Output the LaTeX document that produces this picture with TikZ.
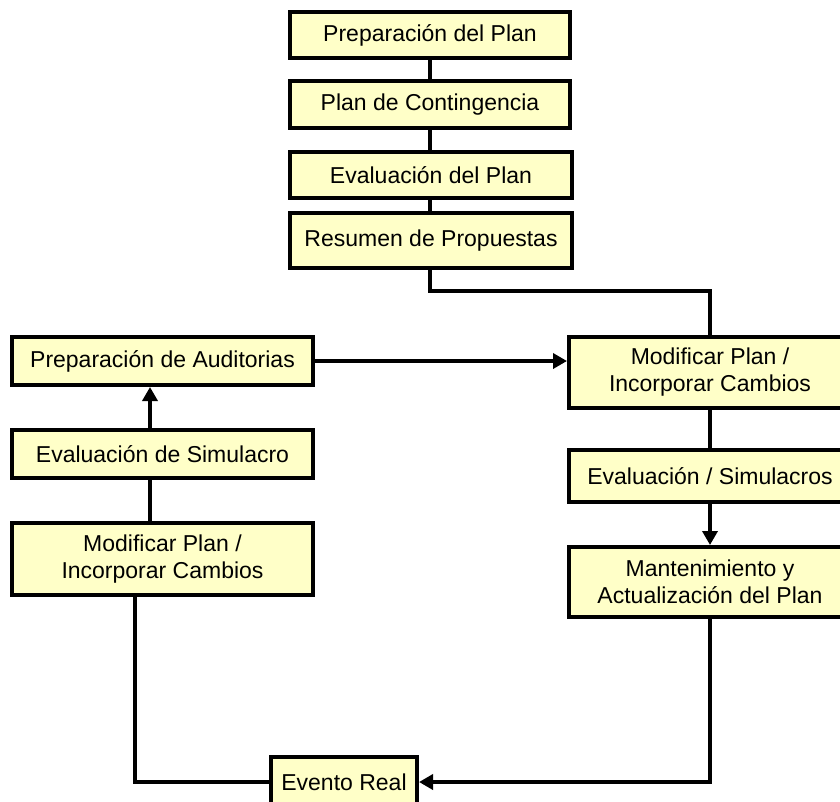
\documentclass[tikz,border=0pt]{standalone}
\usepackage{fontspec}
\setmainfont{Liberation Sans}
\usetikzlibrary{arrows.meta}
\definecolor{boxfill}{RGB}{255,255,200}
\begin{document}
\begin{tikzpicture}[x=1pt,y=-1pt,
  stagebox/.style={draw=black,line width=4pt,fill=boxfill,
    inner sep=0pt,align=center,
    font=\fontsize{23}{27}\selectfont},
  link/.style={line width=4pt},
  arr/.style={link,-{Triangle[length=14pt,width=15pt]}}]
\useasboundingbox (0,0) rectangle (840,801);
\clip (0,0) rectangle (840,801);

% main column
\node[stagebox,minimum width=280pt,minimum height=46pt] (p1) at (430,35) {Preparación del Plan};
\node[stagebox,minimum width=280pt,minimum height=47pt] (p2) at (430,104.5) {Plan de Contingencia};
\node[stagebox,minimum width=282pt,minimum height=46pt] (p3) at (431,175) {Evaluación del Plan};
\node[stagebox,minimum width=282pt,minimum height=55pt] (p4) at (431,240.5) {Resumen de Propuestas};

% left column
\node[stagebox,minimum width=301pt,minimum height=48pt] (aud) at (162.5,361) {Preparación de Auditorias};
\node[stagebox,minimum width=301pt,minimum height=48pt] (sim) at (162.5,454) {Evaluación de Simulacro};
\node[stagebox,minimum width=301pt,minimum height=72pt] (modL) at (162.5,559) {Modificar Plan /\\Incorporar Cambios};

% right column
\node[stagebox,minimum width=282pt,minimum height=71pt] (modR) at (710,372.5) {Modificar Plan /\\Incorporar Cambios};
\node[stagebox,minimum width=282pt,minimum height=52pt] (evs) at (710,476) {Evaluación / Simulacros};
\node[stagebox,minimum width=282pt,minimum height=70pt] (mant) at (710,582) {Mantenimiento y\\Actualización del Plan};

% bottom
\node[stagebox,minimum width=146pt,minimum height=50pt] (ev) at (344,782) {Evento Real};

% helper coordinates for off-centre connectors
\coordinate (topx) at (430,0);
\coordinate (jy) at (0,291);
\coordinate (lx) at (150,0);
\coordinate (bx) at (135,0);

% connectors
\draw[link] (p1.south -| topx) -- (p2.north -| topx);
\draw[link] (p2.south -| topx) -- (p3.north -| topx);
\draw[link] (p3.south -| topx) -- (p4.north -| topx);
\draw[link] (p4.south -| topx) -- (jy -| topx) -| (modR.north);
\draw[arr] (aud.east) -- (aud.east -| modR.west);
\draw[arr] (sim.north -| lx) -- (aud.south -| lx);
\draw[link] (modL.north -| lx) -- (sim.south -| lx);
\draw[link] (modR.south) -- (evs.north);
\draw[arr] (evs.south) -- (mant.north);
\draw[arr] (mant.south) |- (ev.east);
\draw[link] (modL.south -| bx) |- (ev.west);
\end{tikzpicture}
\end{document}
